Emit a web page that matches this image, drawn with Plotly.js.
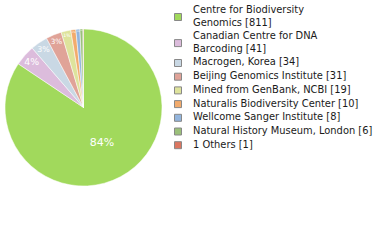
<!DOCTYPE html>
<html><head><meta charset="utf-8">
<script src="https://cdn.plot.ly/plotly-3.0.1.min.js"></script>
<style>html,body{margin:0;padding:0;background:#fff;}</style>
</head><body>
<div id="chart" style="width:380px;height:240px;"></div>
<script>
var labels = ["Centre for Biodiversity Genomics", "Canadian Centre for DNA Barcoding", "Macrogen, Korea", "Beijing Genomics Institute", "Mined from GenBank, NCBI", "Naturalis Biodiversity Center", "Wellcome Sanger Institute", "Natural History Museum, London", "1 Others"];
var legendText = ["Centre for Biodiversity<br>Genomics [811]", "Canadian Centre for DNA<br>Barcoding [41]", "Macrogen, Korea [34]", "Beijing Genomics Institute [31]", "Mined from GenBank, NCBI [19]", "Naturalis Biodiversity Center [10]", "Wellcome Sanger Institute [8]", "Natural History Museum, London [6]", "1 Others [1]"];
var values = [811, 41, 34, 31, 19, 10, 8, 6, 1];
var colors = ["#a1d95c", "#dcbcdc", "#c9d8e4", "#e0a398", "#dee39c", "#f2ab6c", "#93b5dd", "#9bc07a", "#dc7660"];

var total = values.reduce(function (a, b) { return a + b; }, 0);
var pctText = values.map(function (v) { return Math.floor(v / total * 100) + "%"; });

var W = 380, H = 240;
var shapes = [], annotations = [];
var lineH = 12.4, pitch = 13.7, first = 9.3;
for (var i = 0; i < labels.length; i++) {
  var nLines = legendText[i].split("<br>").length;
  var last = first + (nLines - 1) * lineH;
  var c = (first + last) / 2 + 1.5;
  shapes.push({type: "rect", xref: "paper", yref: "paper",
    x0: 174.5 / W, x1: 181.5 / W, y0: 1 - (c - 3.5) / H, y1: 1 - (c + 3.5) / H,
    fillcolor: colors[i], line: {color: "#888", width: 1}});
  annotations.push({xref: "paper", yref: "paper", x: 191 / W, y: 1 - (c - 1) / H,
    xanchor: "left", yanchor: "middle", align: "left", showarrow: false,
    text: legendText[i], font: {family: "DejaVu Sans", size: 9.9, color: "#1a1a1a"}});
  first = last + pitch;
}

Plotly.newPlot("chart", [{
  type: "pie", labels: labels, values: values, sort: false,
  direction: "clockwise", rotation: 0,
  marker: {colors: colors, line: {color: "#ffffff", width: 0.5}},
  text: pctText, textinfo: "text",
  textposition: "inside", insidetextorientation: "horizontal",
  textfont: {family: "DejaVu Sans", size: 11, color: "#ffffff"},
  domain: {x: [5 / W, 162 / W], y: [1 - 186 / H, 1 - 29 / H]},
  hoverinfo: "none"
}], {
  width: W, height: H, margin: {l: 0, r: 0, t: 0, b: 0},
  showlegend: false, paper_bgcolor: "#fff",
  shapes: shapes, annotations: annotations
}, {staticPlot: true});
</script>
</body></html>
